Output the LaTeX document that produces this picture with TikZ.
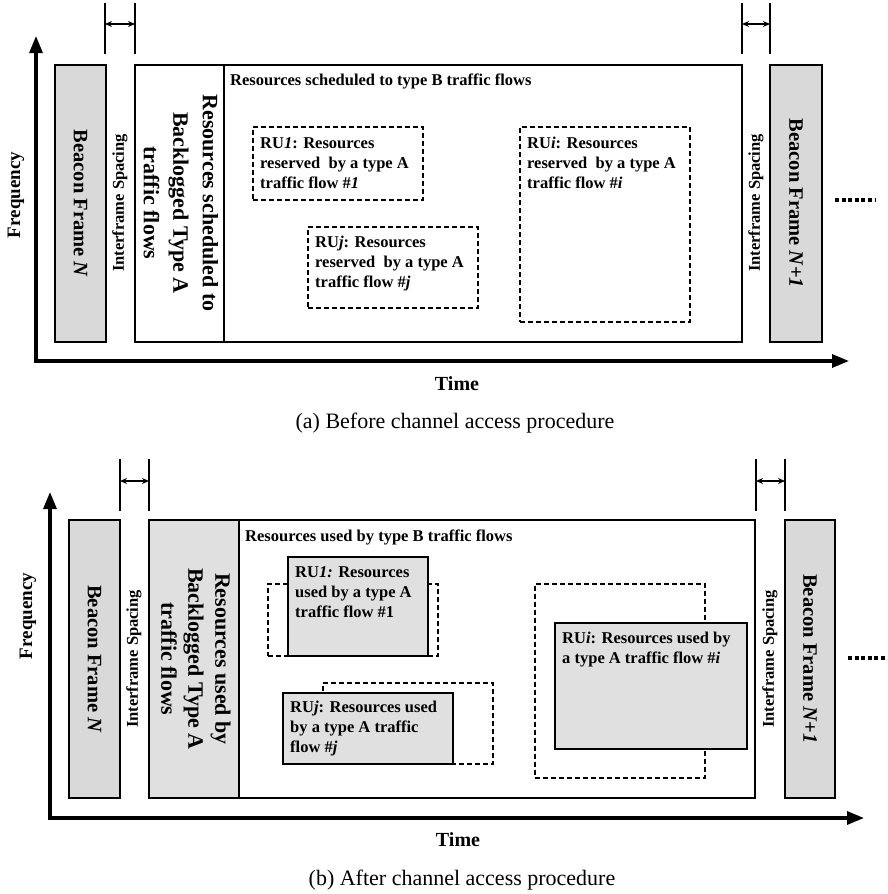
\documentclass[tikz,border=0pt]{standalone}
\usepackage{fontspec}
\setmainfont{Liberation Serif}
\usetikzlibrary{arrows.meta}
\begin{document}
\begin{tikzpicture}[x=1pt,y=-1pt,
  frame/.style={draw, line width=2.9pt, inner sep=0pt, outer sep=0pt, anchor=north west},
  beacon/.style={frame, fill=black!15},
  usedru/.style={frame, fill=black!12},
  reserved/.style={draw, line width=2.7pt, dash pattern=on 5pt off 3pt, inner sep=0pt, outer sep=0pt, anchor=north west},
  tick/.style={line width=1.3pt},
  gap/.style={line width=1.3pt, {Stealth[length=7pt,width=6pt]}-{Stealth[length=7pt,width=6pt]}},
  axis/.style={line width=3.1pt, {Triangle[length=17pt,width=13pt]}-{Triangle[length=17pt,width=13pt]}},
  more/.style={line width=3.6pt, dash pattern=on 4pt off 2.6pt},
  beacontxt/.style={font=\fontsize{20.5}{24}\selectfont\bfseries, rotate=-90, inner sep=0pt},
  ifstxt/.style={font=\fontsize{16.5}{19}\selectfont\bfseries, rotate=90, inner sep=0pt},
  backtxt/.style={font=\fontsize{22}{29.5}\selectfont\bfseries, rotate=-90, align=center, inner sep=0pt},
  freqtxt/.style={font=\fontsize{19}{22}\selectfont\bfseries, rotate=90, inner sep=0pt},
  timetxt/.style={font=\fontsize{20}{24}\selectfont\bfseries, inner sep=0pt},
  captxt/.style={font=\fontsize{22}{26}\selectfont, inner sep=0pt},
  btxt/.style={font=\fontsize{16.5}{20}\selectfont\bfseries, inner sep=0pt, anchor=base west},
  rutxt/.style={font=\fontsize{16.5}{20}\selectfont\bfseries, align=left, inner sep=0pt, anchor=north west}
]
\useasboundingbox (0,0) rectangle (888,894);

%% ---------------- (a) before channel access ----------------
% interframe spacing markers
\coordinate (a1t) at (105,3);  \coordinate (a1b) at (105,54);
\coordinate (a2t) at (135,3);  \coordinate (a2b) at (135,54);
\coordinate (a3t) at (742,3);  \coordinate (a3b) at (742,54);
\coordinate (a4t) at (770,3);  \coordinate (a4b) at (770,54);
\draw[tick] (a1t) -- (a1b);
\draw[tick] (a2t) -- (a2b);
\draw[tick] (a3t) -- (a3b);
\draw[tick] (a4t) -- (a4b);
\coordinate (ga1) at (105,24); \coordinate (ga2) at (135,24);
\coordinate (ga3) at (742,24); \coordinate (ga4) at (770,24);
\draw[gap] (ga1) -- (ga2);
\draw[gap] (ga3) -- (ga4);

% axes
\coordinate (oa) at (36,361);
\coordinate (fa) at (36,36);
\coordinate (ta) at (849,361);
\draw[axis] (fa) -- (oa) -- (ta);
\node[freqtxt] (freqa) at (16,195) {Frequency};
\node[timetxt] (timea) at (457,384) {Time};
\node[captxt] (capa) at (455,423) {(a) Before channel access procedure};

% frames
\node[beacon, minimum width=51pt, minimum height=277pt] (bna) at (55,65) {};
\node[beacontxt] (bnat) at (bna.center) {Beacon Frame \textit{N}};
\node[ifstxt] (ifa1) at (120,203) {Interframe Spacing};
\node[frame, minimum width=89pt, minimum height=277pt] (backa) at (135,65) {};
\node[backtxt] (backat) at (181,203) {Resources scheduled to\\Backlogged Type A\\traffic flows};
\node[frame, minimum width=518pt, minimum height=277pt] (typeba) at (224,65) {};
\node[btxt] (typebat) at (230,85) {Resources scheduled to type B traffic flows};
\node[ifstxt] (ifa2) at (756,203) {Interframe Spacing};
\node[beacon, minimum width=52pt, minimum height=277pt] (bn1a) at (770,65) {};
\node[beacontxt] (bn1at) at (bn1a.center) {Beacon Frame \textit{N}+\textit{1}};
\coordinate (da1) at (835,200); \coordinate (da2) at (876,200);
\draw[more] (da1) -- (da2);

% reserved resource units
\node[reserved, minimum width=170pt, minimum height=73pt] (ru1a) at (253,127) {};
\node[rutxt] (ru1at) at (260,137) {RU\textit{1}: Resources\\reserved\ \ by a type A\\traffic flow \#\textit{1}};
\node[reserved, minimum width=170pt, minimum height=81pt] (ruja) at (308,227) {};
\node[rutxt] (rujat) at (315,236) {RU\textit{j}: Resources\\reserved\ \ by a type A\\traffic flow \#\textit{j}};
\node[reserved, minimum width=170pt, minimum height=195pt] (ruia) at (520,127) {};
\node[rutxt] (ruiat) at (527,137) {RU\textit{i}: Resources\\reserved\ \ by a type A\\traffic flow \#\textit{i}};

%% ---------------- (b) after channel access ----------------
\coordinate (b1t) at (120,459);  \coordinate (b1b) at (120,511);
\coordinate (b2t) at (149,459);  \coordinate (b2b) at (149,511);
\coordinate (b3t) at (756,459);  \coordinate (b3b) at (756,511);
\coordinate (b4t) at (785,459);  \coordinate (b4b) at (785,511);
\draw[tick] (b1t) -- (b1b);
\draw[tick] (b2t) -- (b2b);
\draw[tick] (b3t) -- (b3b);
\draw[tick] (b4t) -- (b4b);
\coordinate (gb1) at (120,481); \coordinate (gb2) at (149,481);
\coordinate (gb3) at (756,481); \coordinate (gb4) at (785,481);
\draw[gap] (gb1) -- (gb2);
\draw[gap] (gb3) -- (gb4);

\coordinate (ob) at (50,818);
\coordinate (fb) at (50,492);
\coordinate (tb) at (864,818);
\draw[axis] (fb) -- (ob) -- (tb);
\node[freqtxt] (freqb) at (28,616) {Frequency};
\node[timetxt] (timeb) at (458,840) {Time};
\node[captxt] (capb) at (462,880) {(b) After channel access procedure};

\node[beacon, minimum width=51pt, minimum height=278pt] (bnb) at (69,520) {};
\node[beacontxt] (bnbt) at (bnb.center) {Beacon Frame \textit{N}};
\node[ifstxt] (ifb1) at (134,659) {Interframe Spacing};
\node[usedru, minimum width=90pt, minimum height=278pt] (backb) at (149,520) {};
\node[backtxt, font=\fontsize{22}{27}\selectfont\bfseries] (backbt) at (196,659) {Resources used by\\Backlogged Type A\\traffic flows};
\node[frame, minimum width=516pt, minimum height=278pt] (typebb) at (239,520) {};
\node[btxt] (typebbt) at (245,541) {Resources used by type B traffic flows};
\node[ifstxt] (ifb2) at (770,659) {Interframe Spacing};
\node[beacon, minimum width=50pt, minimum height=278pt] (bn1b) at (785,520) {};
\node[beacontxt] (bn1bt) at (bn1b.center) {Beacon Frame \textit{N}+\textit{1}};
\coordinate (db1) at (848,658); \coordinate (db2) at (890,658);
\draw[more] (db1) -- (db2);

% reserved units (dashed) with the resources actually used on top
\node[reserved, minimum width=170pt, minimum height=72pt] (ru1br) at (268,584) {};
\node[usedru, minimum width=140pt, minimum height=99pt] (ru1b) at (288,557) {};
\node[rutxt] (ru1bt) at (295,566) {RU\textit{1:} Resources\\used by a type A\\traffic flow \#1};
\node[reserved, minimum width=170pt, minimum height=81pt] (rujbr) at (323,683) {};
\node[usedru, minimum width=170pt, minimum height=71pt] (rujb) at (283,693) {};
\node[rutxt] (rujbt) at (290,701) {RU\textit{j}: Resources used\\by a type A traffic\\flow \#\textit{j}};
\node[reserved, minimum width=170pt, minimum height=194pt] (ruibr) at (535,584) {};
\node[usedru, minimum width=192pt, minimum height=126pt] (ruib) at (555,623) {};
\node[rutxt] (ruibt) at (562,632) {RU\textit{i}: Resources used by\\a type A traffic flow \#\textit{i}};
\end{tikzpicture}
\end{document}
